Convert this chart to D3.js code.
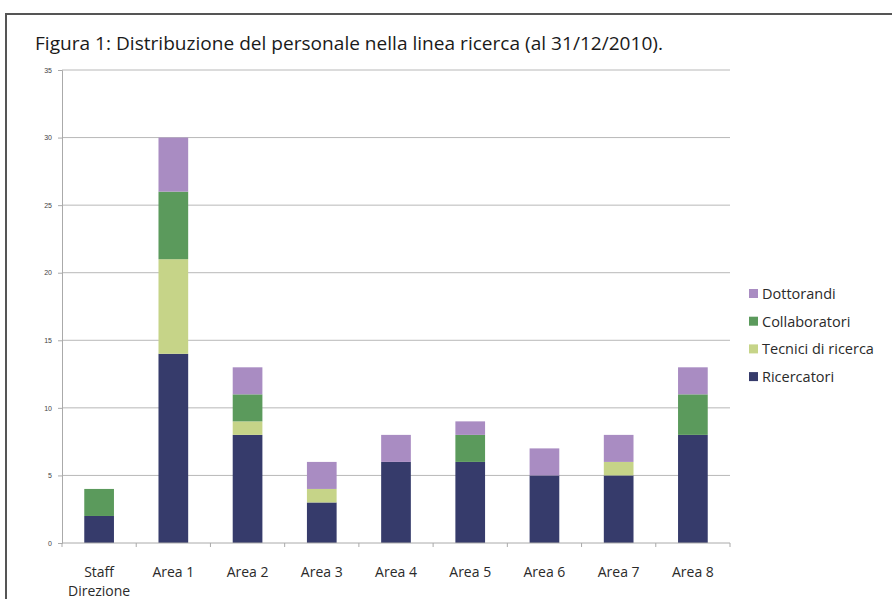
<!DOCTYPE html>
<html>
<head>
<meta charset="utf-8">
<script src="https://cdn.jsdelivr.net/npm/d3@7"></script>
<style>
  body { margin: 0; background: #fff; }
  svg { display: block; font-family: "Open Sans", "Noto Sans", sans-serif; }
</style>
</head>
<body>
<svg width="892" height="599"></svg>
<script>
// data
const categories = ['Staff Direzione', 'Area 1', 'Area 2', 'Area 3', 'Area 4', 'Area 5', 'Area 6', 'Area 7', 'Area 8'];
const ricercatori = [2, 14, 8, 3, 6, 6, 5, 5, 8];
const tecnici = [0, 7, 1, 1, 0, 0, 0, 1, 0];
const collaboratori = [2, 5, 2, 0, 0, 2, 0, 0, 3];
const dottorandi = [0, 4, 2, 2, 2, 1, 2, 2, 2];
const seriesNames = ['Ricercatori', 'Tecnici di ricerca', 'Collaboratori', 'Dottorandi'];
const yTicks = [0, 5, 10, 15, 20, 25, 30, 35];

const colors = ['#363b6b', '#c6d488', '#5b9a5c', '#a98cc2'];

const svg = d3.select('svg');

// frame
svg.append('path')
  .attr('d', 'M6,599 L6,14 L892,14')
  .attr('fill', 'none')
  .attr('stroke', '#555')
  .attr('stroke-width', 2);

// title
svg.append('text')
  .attr('x', 35).attr('y', 50)
  .attr('font-size', 19)
  .attr('fill', '#1a1a1a')
  .attr('textLength', 628)
  .attr('lengthAdjust', 'spacingAndGlyphs')
  .text('Figura 1: Distribuzione del personale nella linea ricerca (al 31/12/2010).');

const margin = {left: 62, top: 70, right: 730, bottom: 543};

const table = categories.map((c, i) => ({
  cat: c,
  'Ricercatori': ricercatori[i],
  'Tecnici di ricerca': tecnici[i],
  'Collaboratori': collaboratori[i],
  'Dottorandi': dottorandi[i]
}));
const stacked = d3.stack().keys(seriesNames)(table);

const x = d3.scaleBand().domain(categories).range([margin.left, margin.right]).paddingInner(0.6).paddingOuter(0.3);
const xb = d3.scaleBand().domain(categories).range([margin.left, margin.right]);
const y = d3.scaleLinear().domain([0, 35]).range([margin.bottom, margin.top]);

// gridlines
svg.append('g')
  .selectAll('line')
  .data(yTicks.filter(d => d > 0))
  .join('line')
  .attr('x1', margin.left).attr('x2', margin.right)
  .attr('y1', d => y(d)).attr('y2', d => y(d))
  .attr('stroke', '#b8b8b8')
  .attr('stroke-width', 1);

// y axis
const yAxis = svg.append('g')
  .attr('transform', `translate(${margin.left},0)`)
  .call(d3.axisLeft(y).tickValues(yTicks).tickSize(4).tickPadding(6));
yAxis.select('.domain').attr('stroke', '#aaa');
yAxis.selectAll('.tick line').attr('stroke', '#aaa');
yAxis.selectAll('.tick text').attr('font-size', 7).attr('fill', '#444');

// bars
svg.append('g')
  .selectAll('g')
  .data(stacked)
  .join('g')
  .attr('fill', (d, i) => colors[i])
  .selectAll('rect')
  .data(d => d)
  .join('rect')
  .attr('x', d => x(d.data.cat))
  .attr('width', x.bandwidth())
  .attr('y', d => y(d[1]))
  .attr('height', d => y(d[0]) - y(d[1]));

// x axis
const xAxis = svg.append('g')
  .attr('transform', `translate(0,${margin.bottom})`);
xAxis.append('line')
  .attr('x1', margin.left).attr('x2', margin.right)
  .attr('stroke', '#aaa');
xAxis.selectAll('line.tk')
  .data(categories.concat(['end']))
  .join('line')
  .attr('class', 'tk')
  .attr('x1', (d, i) => i < categories.length ? xb(d) : margin.right)
  .attr('x2', (d, i) => i < categories.length ? xb(d) : margin.right)
  .attr('y1', 0).attr('y2', 4)
  .attr('stroke', '#aaa');
const lbl = xAxis.selectAll('text')
  .data(categories)
  .join('text')
  .attr('x', d => xb(d) + xb.bandwidth() / 2)
  .attr('y', 34)
  .attr('text-anchor', 'middle')
  .attr('font-size', 14)
  .attr('fill', '#2a2a2a');
lbl.each(function(d) {
  const words = d.split(' ');
  const t = d3.select(this);
  if (d === 'Staff Direzione') {
    t.append('tspan').attr('x', t.attr('x')).text(words[0]);
    t.append('tspan').attr('x', t.attr('x')).attr('dy', 19).text(words[1]);
  } else {
    t.text(d);
  }
});

// legend (reverse order)
const legend = svg.append('g')
  .selectAll('g')
  .data(seriesNames.slice().reverse())
  .join('g')
  .attr('transform', (d, i) => `translate(749,${294 + i * 27.7})`);
legend.append('rect')
  .attr('x', 0).attr('y', -5)
  .attr('width', 9).attr('height', 9)
  .attr('fill', d => colors[seriesNames.indexOf(d)]);
legend.append('text')
  .attr('x', 13).attr('y', 5)
  .attr('font-size', 14.5)
  .attr('fill', '#2a2a2a')
  .text(d => d);
</script>
</body>
</html>
